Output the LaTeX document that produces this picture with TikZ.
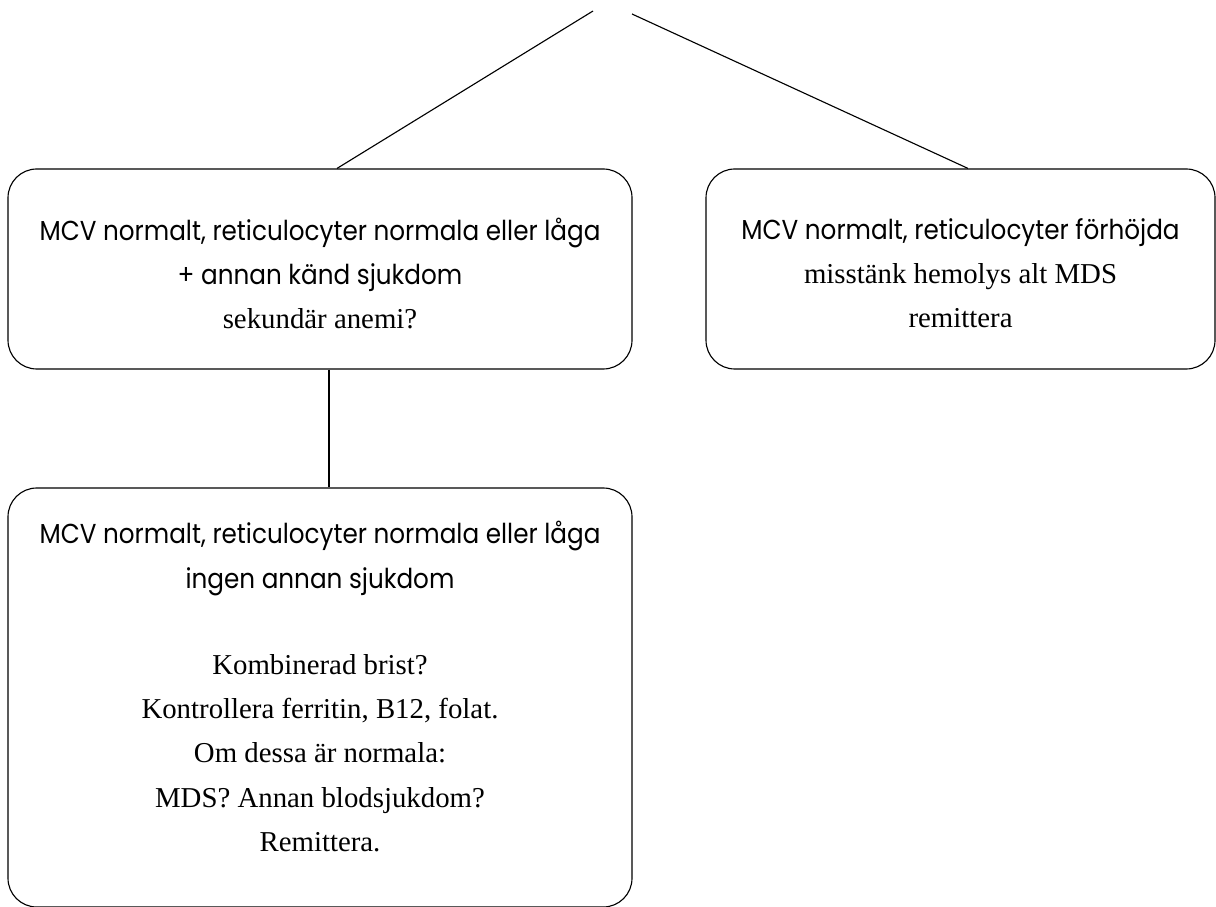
\documentclass[tikz,border=0pt]{standalone}
\usepackage{fontspec}
\setmainfont{Liberation Serif}
\newfontfamily\headfont{Poppins}[FakeStretch=0.9]
\usepackage{tikz}
\usetikzlibrary{calc}

\tikzset{
  stepbox/.style={draw, line width=0.8pt, rounded corners=0.72cm, inner sep=0pt},
  headtext/.style={font=\headfont\fontsize{19.5}{32}\selectfont, align=center, anchor=base, inner sep=0pt},
  bodytext/.style={font=\fontsize{20.5}{31.3}\selectfont, align=center, anchor=base, inner sep=0pt},
  link/.style={line width=0.8pt}
}

\begin{document}
\begin{tikzpicture}
  \useasboundingbox (0,0) rectangle (30.4,22.65);

  % free ends at the top
  \coordinate (apexL) at (14.825,22.375);
  \coordinate (apexR) at (15.8,22.3);

  % Box 1: secondary anaemia
  \node[stepbox, minimum width=15.6cm, minimum height=5cm] (sekundar) at (8.0,15.925) {};
  \node[headtext] (sekundarhead) at (8.0,15.525) {MCV normalt, reticulocyter normala eller låga\\+ annan känd sjukdom};
  \node[bodytext] (sekundarbody) at (8.0,14.425) {sekundär anemi?};

  % Box 2: haemolysis
  \node[stepbox, minimum width=12.725cm, minimum height=5cm] (hemolys) at (24.0125,15.925) {};
  \node[headtext] (hemolyshead) at (24.0125,16.65) {MCV normalt, reticulocyter förhöjda};
  \node[bodytext] (hemolysbody) at (24.0125,14.45) {misstänk hemolys alt MDS\\remittera};

  % Box 3: combined deficiency
  \node[stepbox, minimum width=15.6cm, minimum height=10.475cm] (brist) at (8.0,5.2125) {};
  \node[headtext] (bristhead) at (8.0,7.95) {MCV normalt, reticulocyter normala eller låga\\ingen annan sjukdom};
  \node[bodytext] (bristbody) at (8.0,1.375) {Kombinerad brist?\\Kontrollera ferritin, B12, folat.\\Om dessa är normala:\\MDS? Annan blodsjukdom?\\Remittera.};

  % connectors
  \draw[link] (apexL) -- ($(sekundar.north)+(0.425,0)$);
  \draw[link] (apexR) -- ($(hemolys.north)+(0.1875,0)$);
  \draw[link] ($(sekundar.south)+(0.225,0)$) -- ($(brist.north)+(0.225,0)$);
\end{tikzpicture}
\end{document}
